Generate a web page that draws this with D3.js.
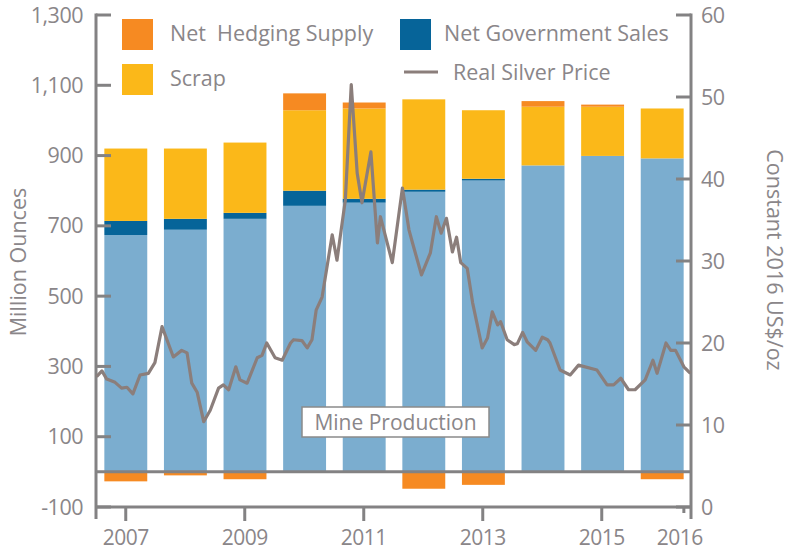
<!DOCTYPE html>
<html>
<head>
<meta charset="utf-8">
<script src="https://cdn.jsdelivr.net/npm/d3@7"></script>
<style>
    body { margin: 0; background: #fff; }
    div.container { width: 796px; height: 550px; }
    text { font-family: "Open Sans", sans-serif; fill: #8a8689; }
</style>
</head>
<body>
<div class="container"></div>
<script>
// supply components, million ounces
const YEARS = [2007, 2008, 2009, 2010, 2011, 2012, 2013, 2014, 2015, 2016]
const MINE = [674, 689, 720, 757, 766, 797, 829, 872, 899, 892]
const GOV = [40, 31, 17, 43, 11, 6, 5, 0, 0, 0]
const SCRAP = [206, 200, 200, 229, 257, 257, 195, 167, 140, 142]
const HEDGE = [-27, -10, -21, 48, 17, -48, -37, 16, 6, -21]

// real silver price, constant 2016 US$/oz  [decimal year, price]
const PRICE = [
    [2007.01, 15.9], [2007.10, 16.6], [2007.18, 15.6], [2007.32, 15.2], [2007.43, 14.5],
    [2007.52, 14.6], [2007.62, 13.8], [2007.74, 16.1], [2007.88, 16.3], [2007.99, 17.6],
    [2008.11, 22.0], [2008.30, 18.3], [2008.44, 19.1], [2008.53, 18.8], [2008.61, 15.1],
    [2008.70, 14.0], [2008.81, 10.4], [2008.92, 11.8], [2009.06, 14.5], [2009.14, 14.9],
    [2009.23, 14.3], [2009.35, 17.1], [2009.42, 15.5], [2009.54, 15.1], [2009.71, 18.2],
    [2009.79, 18.5], [2009.87, 20.0], [2010.01, 18.2], [2010.13, 17.9], [2010.27, 20.0],
    [2010.32, 20.4], [2010.46, 20.3], [2010.55, 19.4], [2010.63, 20.4], [2010.70, 24.0],
    [2010.80, 25.6], [2010.97, 33.2], [2011.05, 30.1], [2011.19, 37.4], [2011.29, 51.5],
    [2011.39, 40.7], [2011.47, 37.1], [2011.62, 43.3], [2011.73, 32.2], [2011.78, 35.4],
    [2011.98, 29.8], [2012.15, 38.9], [2012.26, 33.8], [2012.32, 32.2], [2012.47, 28.3],
    [2012.62, 31.0], [2012.72, 35.4], [2012.80, 33.4], [2012.89, 35.2], [2012.99, 31.1],
    [2013.06, 32.9], [2013.13, 29.8], [2013.24, 29.1], [2013.33, 24.9], [2013.49, 19.4],
    [2013.58, 20.6], [2013.66, 23.8], [2013.75, 22.2], [2013.80, 22.6], [2013.91, 20.4],
    [2014.03, 19.8], [2014.08, 19.9], [2014.17, 21.3], [2014.25, 20.1], [2014.39, 19.1],
    [2014.50, 20.7], [2014.59, 20.4], [2014.63, 20.0], [2014.80, 16.7], [2014.97, 16.1],
    [2015.11, 17.3], [2015.42, 16.7], [2015.59, 14.9], [2015.70, 14.9], [2015.82, 15.7],
    [2015.95, 14.3], [2016.06, 14.3], [2016.23, 15.5], [2016.36, 17.9], [2016.43, 16.3],
    [2016.58, 20.0], [2016.66, 19.1], [2016.74, 19.1], [2016.88, 17.1], [2016.99, 16.3]
]

// axis ticks
const LEFT_TICKS = [-100, 100, 300, 500, 700, 900, 1100, 1300]
const RIGHT_TICKS = [0, 10, 20, 30, 40, 50, 60]
const X_TICKS = [[2007.5, "2007"], [2009.5, "2009"], [2011.5, "2011"], [2013.5, "2013"], [2015.5, "2015"], [2016.88, "2016"]]

const SERIES = [
    { key: "mine", values: MINE, color: "#7badcf" },
    { key: "gov", values: GOV, color: "#066499" },
    { key: "scrap", values: SCRAP, color: "#fbb819" },
    { key: "hedge", values: HEDGE, color: "#f68a22" }
]

const AXIS_COLOR = "#838283"

class App {
    constructor(div) {
        this.div = div
        this.width = 796
        this.height = 550
    }

    createScales() {
        // plot box
        this.left = 96
        this.right = 691
        this.top = 15
        this.bottom = 507

        this.yLeft = d3.scaleLinear().domain([-100, 1300]).range([this.bottom, this.top])
        this.yRight = d3.scaleLinear().domain([0, 60]).range([this.bottom, this.top])

        this.xBand = d3.scaleBand()
            .domain(YEARS)
            .range([this.left, this.right + 1])
            .paddingInner(0.28)
            .paddingOuter(0.14)

        this.xTime = d3.scaleLinear().domain([2007, 2017]).range([this.left, this.right])
    }

    drawBars() {
        // table for the stack
        let table = YEARS.map((y, i) => {
            let row = { year: y }
            SERIES.forEach(s => { row[s.key] = s.values[i] })
            return row
        })

        let stacked = d3.stack()
            .keys(SERIES.map(s => s.key))
            .offset(d3.stackOffsetDiverging)(table)

        let groups = this.svg.selectAll("g.series")
            .data(stacked)
            .enter().append("g")
            .attr("class", "series")
            .attr("fill", (d, i) => SERIES[i].color)

        groups.selectAll("rect")
            .data(d => d)
            .enter().append("rect")
            .attr("x", d => this.xBand(d.data.year))
            .attr("width", this.xBand.bandwidth())
            .attr("y", d => this.yLeft(Math.max(d[0], d[1])))
            .attr("height", d => Math.abs(this.yLeft(d[0]) - this.yLeft(d[1])))
    }

    drawAxes() {
        let g = this.svg.append("g")
            .attr("stroke", AXIS_COLOR)
            .attr("stroke-width", 3)
            .attr("fill", "none")

        // zero line
        g.append("line")
            .attr("x1", this.left).attr("x2", this.right)
            .attr("y1", this.yLeft(0)).attr("y2", this.yLeft(0))

        // frame lines
        g.append("line")
            .attr("x1", this.left).attr("x2", this.left)
            .attr("y1", this.top - 1.5).attr("y2", this.bottom + 12)
        g.append("line")
            .attr("x1", this.right).attr("x2", this.right)
            .attr("y1", this.top - 1.5).attr("y2", this.bottom + 12)
        g.append("line")
            .attr("x1", this.left).attr("x2", this.right)
            .attr("y1", this.bottom).attr("y2", this.bottom)

        // left ticks, pointing inward
        g.selectAll("line.lt")
            .data(LEFT_TICKS)
            .enter().append("line")
            .attr("class", "lt")
            .attr("x1", this.left).attr("x2", this.left + 15)
            .attr("y1", d => this.yLeft(d)).attr("y2", d => this.yLeft(d))

        // right ticks
        g.selectAll("line.rt")
            .data(RIGHT_TICKS)
            .enter().append("line")
            .attr("class", "rt")
            .attr("x1", this.right - 15).attr("x2", this.right)
            .attr("y1", d => this.yRight(d)).attr("y2", d => this.yRight(d))

        // bottom ticks
        g.selectAll("line.bt")
            .data(X_TICKS)
            .enter().append("line")
            .attr("class", "bt")
            .attr("x1", d => this.xTime(d[0])).attr("x2", d => this.xTime(d[0]))
            .attr("y1", this.bottom)
            .attr("y2", d => d[1] === "2016" ? this.bottom + 6 : this.bottom + 14)

        // labels
        let fmt = d => d3.format(",")(d).replace("\u2212", "-")

        this.svg.selectAll("text.ll")
            .data(LEFT_TICKS)
            .enter().append("text")
            .attr("class", "ll")
            .attr("x", 83)
            .attr("y", d => this.yLeft(d) + 7.5)
            .attr("text-anchor", "end")
            .style("font-size", "21.5px")
            .style("letter-spacing", "-0.5px")
            .text(fmt)

        this.svg.selectAll("text.rl")
            .data(RIGHT_TICKS)
            .enter().append("text")
            .attr("class", "rl")
            .attr("x", 701)
            .attr("y", d => this.yRight(d) + 7.5)
            .style("font-size", "21.5px")
            .style("letter-spacing", "-0.5px")
            .text(d => d)

        this.svg.selectAll("text.xl")
            .data(X_TICKS)
            .enter().append("text")
            .attr("class", "xl")
            .attr("x", d => this.xTime(d[0]) - (d[1] === "2016" ? 4 : 0))
            .attr("y", 545)
            .attr("text-anchor", "middle")
            .style("font-size", "21px")
            .style("letter-spacing", "-0.5px")
            .text(d => d[1])

        // axis titles
        this.svg.append("text")
            .attr("transform", "translate(26, 262) rotate(-90)")
            .attr("text-anchor", "middle")
            .style("font-size", "21.5px")
            .text("Million Ounces")

        this.svg.append("text")
            .attr("transform", "translate(767, 260) rotate(90)")
            .attr("text-anchor", "middle")
            .style("font-size", "21.5px")
            .text("Constant 2016 US$/oz")
    }

    drawPrice() {
        let line = d3.line()
            .x(d => this.xTime(d[0]))
            .y(d => this.yRight(d[1]))

        this.svg.append("path")
            .datum(PRICE)
            .attr("d", line)
            .attr("fill", "none")
            .attr("stroke", "#8b7e7b")
            .attr("stroke-width", 3.2)
            .attr("stroke-linejoin", "round")
    }

    drawLabels() {
        // mine production box
        let box = this.svg.append("g").attr("transform", "translate(302, 407)")
        box.append("rect")
            .attr("width", 187).attr("height", 30)
            .attr("fill", "#fff")
            .attr("stroke", "#8a8a8a")
            .attr("stroke-width", 1.5)
        box.append("text")
            .attr("x", 93.5).attr("y", 22.5)
            .attr("text-anchor", "middle")
            .style("font-size", "21px")
            .text("Mine Production")

        // legend
        let legend = [
            { label: "Net  Hedging Supply", color: "#f68a22", x: 122, y: 19, dx: 48 },
            { label: "Scrap", color: "#fbb819", x: 122, y: 64, dx: 48 },
            { label: "Net Government Sales", color: "#066499", x: 400, y: 19, dx: 44 }
        ]
        let items = this.svg.selectAll("g.legend")
            .data(legend)
            .enter().append("g")
            .attr("class", "legend")
            .attr("transform", d => `translate(${d.x}, ${d.y})`)
        items.append("rect")
            .attr("width", 31).attr("height", 31)
            .attr("fill", d => d.color)
        items.append("text")
            .attr("x", d => d.dx).attr("y", 22)
            .style("font-size", "21.5px")
            .style("white-space", "pre")
            .text(d => d.label)

        this.svg.append("line")
            .attr("x1", 404).attr("x2", 438)
            .attr("y1", 72).attr("y2", 72)
            .attr("stroke", "#8b7e7b")
            .attr("stroke-width", 3.2)
        this.svg.append("text")
            .attr("x", 453).attr("y", 80)
            .style("font-size", "21.5px")
            .text("Real Silver Price")
    }

    run() {
        this.svg = d3.select(this.div).append("svg")
            .attr("width", this.width)
            .attr("height", this.height)

        this.createScales()
        this.drawBars()
        this.drawAxes()
        this.drawPrice()
        this.drawLabels()
    }
}

let app = new App(document.querySelector("div.container"))
app.run()
</script>
</body>
</html>
